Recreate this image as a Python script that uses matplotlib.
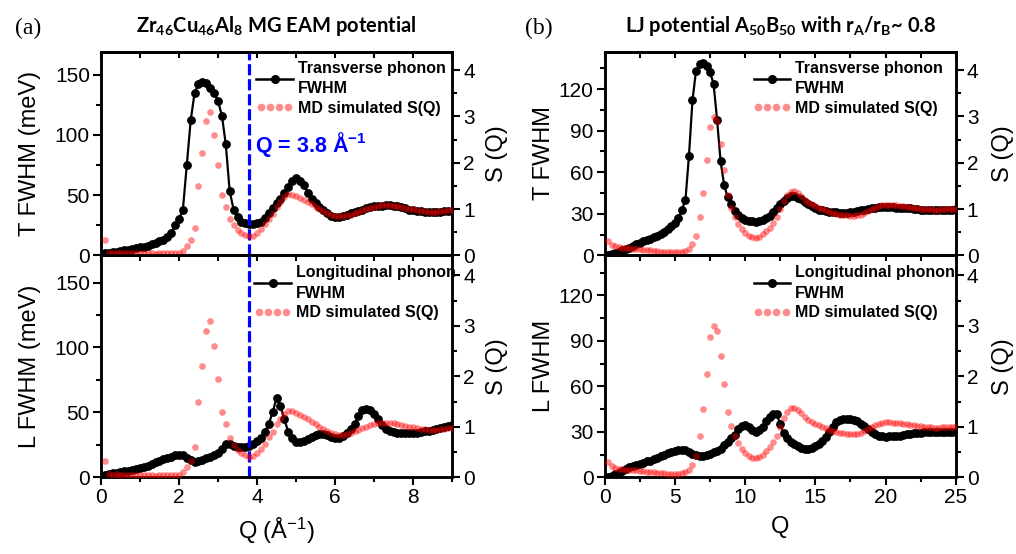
import numpy as np
import matplotlib
matplotlib.use("Agg")
import matplotlib.pyplot as plt
from matplotlib.ticker import MultipleLocator
from matplotlib.lines import Line2D
from matplotlib.legend_handler import HandlerLine2D

plt.rcParams['font.family'] = ['Liberation Sans', 'DejaVu Sans']
plt.rcParams['mathtext.default'] = 'regular'

## ---------------- data (a): Zr46Cu46Al8, Q = 0.1 ... 9.0 ----------------
q_a = np.linspace(0.1, 9.0, 90)

t_fwhm_a = [1.5, 2, 2.5, 3, 3.5, 4, 4.8, 5.5, 6, 6.5,
            7.2, 8, 9, 10, 11.5, 13, 15.5, 18.5, 25, 30,
            38, 75, 112, 135, 142, 144, 143, 139, 135, 128,
            116, 92, 53, 38, 32, 28, 26.5, 26, 26, 26.5,
            28, 31, 35, 39, 43, 47, 52, 57, 62, 64,
            62, 58, 52, 47, 43, 40, 38, 35, 33, 32,
            32, 32.5, 33.5, 35, 36, 37, 38, 39, 40, 40.5,
            41, 41, 41.5, 41.5, 41, 40.5, 40, 39, 38, 37.5,
            37, 36.5, 36, 36, 36, 36, 36, 36.5, 36.5, 37]

l_fwhm_a = [1.8, 2.5, 3, 3.5, 4, 4.5, 5, 5.5, 6.3, 7,
            8, 9, 10, 11.5, 12.5, 13.8, 15, 16, 17, 17.5,
            17, 15, 13, 12, 12.5, 13.5, 14.5, 15.5, 17, 19,
            22, 25.5, 26, 24.5, 23.5, 23.5, 23.5, 24.5, 26, 28,
            30.5, 35, 41, 50, 61, 55, 45, 35, 30, 27.5,
            27, 28, 29.5, 31, 32.5, 33, 33, 32.5, 31, 30,
            30.5, 31.5, 34, 37, 41, 47, 52, 53, 52, 49,
            45, 40, 37.5, 35.5, 35, 34.5, 34.5, 34.5, 34.5, 34.5,
            34.5, 35, 35.5, 36, 36.5, 37, 38, 39, 39.5, 40]

sq_a = [0.32, 0.06, 0.05, 0.06, 0.05, 0.04, 0.04, 0.05, 0.05, 0.04,
        0.04, 0.05, 0.04, 0.03, 0.04, 0.04, 0.05, 0.04, 0.04, 0.05,
        0.1, 0.2, 0.33, 0.6, 1.5, 2.2, 2.9, 3.1, 2.6, 1.95,
        1.3, 1.05, 0.78, 0.65, 0.55, 0.48, 0.44, 0.41, 0.42, 0.48,
        0.57, 0.67, 0.79, 0.9, 1.05, 1.16, 1.26, 1.32, 1.31, 1.28,
        1.24, 1.2, 1.15, 1.1, 1.05, 1.0, 0.95, 0.91, 0.87, 0.85,
        0.84, 0.84, 0.86, 0.88, 0.91, 0.94, 0.97, 1.0, 1.03, 1.05,
        1.07, 1.08, 1.08, 1.08, 1.07, 1.06, 1.04, 1.02, 1.0, 0.99,
        0.97, 0.96, 0.95, 0.94, 0.94, 0.94, 0.95, 0.96, 0.97, 0.98]

## ---------------- data (b): LJ A50B50, Q = 0.25 ... 25 ----------------
q_b = np.linspace(0.25, 25.0, 100)

t_fwhm_b = [0.5, 1, 1.5, 2.5, 3.5, 4.5, 5.5, 6.8, 8, 9,
            10, 11, 12, 13, 14, 15.5, 17, 19, 21, 23.5,
            27, 33, 40, 72, 112, 133, 138, 139, 137, 132,
            124, 98, 68, 51, 42, 37, 32, 29, 27, 25.5,
            25, 24.5, 24, 24.5, 25.5, 27, 28.5, 31, 34, 37,
            39.5, 41.5, 42.5, 42.5, 41.5, 40.5, 38.5, 37, 35.5, 34,
            33, 32.5, 32, 31.5, 31, 31, 30.5, 30.5, 30.5, 31,
            31.5, 32, 32.5, 33, 33.5, 34, 34.5, 35, 35, 35,
            35, 35, 34.5, 34.5, 34, 34, 34, 33.5, 33.5, 33,
            33, 33, 33, 33, 33, 33, 33, 33, 33, 33.5]

l_fwhm_b = [0.3, 1, 2, 3, 4, 5.5, 7, 7.5, 8, 8.5,
            9.5, 10.5, 11, 12, 13, 14, 15, 15.8, 16.5, 17.3,
            18, 18.3, 18, 17, 15.5, 14.5, 14, 14.2, 14.8, 15.5,
            16.5, 17.5, 19, 21, 23.5, 26, 28, 32, 34, 34.5,
            33, 31, 30, 31, 33, 37, 39.5, 41.5, 42, 35,
            29, 26, 23.5, 22, 20.5, 19.5, 19, 19, 19.5, 20.5,
            22, 24, 26.5, 30, 33.5, 36.5, 38, 38.5, 38.5, 38.5,
            38, 37, 35.5, 34, 32, 30, 28.5, 27.5, 27, 26.5,
            27, 27, 27.5, 27.5, 28, 28.5, 28.5, 29, 29.5, 29.5,
            30, 30, 30, 30, 30, 30, 30, 30, 30, 30]

sq_b = [0.3, 0.23, 0.19, 0.17, 0.16, 0.15, 0.15, 0.14, 0.14, 0.13,
        0.12, 0.11, 0.11, 0.1, 0.09, 0.08, 0.08, 0.07, 0.07, 0.07,
        0.07, 0.08, 0.1, 0.14, 0.24, 0.42, 0.82, 1.35, 2.05, 2.78,
        2.99, 2.9, 2.4, 1.85, 1.3, 1.02, 0.82, 0.68, 0.57, 0.48,
        0.42, 0.39, 0.38, 0.4, 0.45, 0.52, 0.6, 0.7, 0.82, 1.0,
        1.18, 1.3, 1.37, 1.38, 1.34, 1.28, 1.2, 1.14, 1.1, 1.06,
        1.03, 1.0, 0.97, 0.94, 0.92, 0.9, 0.88, 0.87, 0.86, 0.85,
        0.85, 0.86, 0.88, 0.91, 0.95, 0.99, 1.03, 1.06, 1.08, 1.09,
        1.09, 1.08, 1.08, 1.07, 1.06, 1.05, 1.04, 1.03, 1.02, 1.01,
        1.0, 0.99, 0.99, 0.98, 0.98, 0.99, 0.99, 1.0, 1.0, 1.01]

Q_MARK = 3.8

RED_ALPHA = 0.45
SPINE_W = 1.8


def style_axes(ax, ax2, xmaj, xmin, ymaj, ymin, xlim, ylim, show_xlabels):
    ax.set_xlim(*xlim)
    ax.set_ylim(*ylim)
    ax2.set_ylim(0, 4.4)
    ax.xaxis.set_major_locator(MultipleLocator(xmaj))
    ax.xaxis.set_minor_locator(MultipleLocator(xmin))
    ax.yaxis.set_major_locator(MultipleLocator(ymaj))
    ax.yaxis.set_minor_locator(MultipleLocator(ymin))
    ax2.yaxis.set_major_locator(MultipleLocator(1))
    ax2.yaxis.set_minor_locator(MultipleLocator(0.5))
    for a in (ax, ax2):
        for s in a.spines.values():
            s.set_linewidth(SPINE_W)
        a.tick_params(which='major', length=6, width=1.5, labelsize=15, pad=2)
        a.tick_params(which='minor', length=3.5, width=1.5)
    ax.tick_params(axis='x', which='both', direction='out', labelbottom=show_xlabels)
    ax.tick_params(axis='y', which='both', direction='out')
    ax2.tick_params(axis='y', which='both', direction='out')
    ## mirrored top ticks pointing inward
    top = ax.secondary_xaxis('top')
    top.xaxis.set_major_locator(MultipleLocator(xmin))
    top.tick_params(direction='in', length=4, width=1.5, labeltop=False)
    top.spines['top'].set_linewidth(SPINE_W)


def draw(ax, q, fwhm, sq, label, leg_x):
    ax.plot(q, fwhm, '-o', color='black', lw=1.6, ms=5.3, zorder=3)
    ax2 = ax.twinx()
    ax2.plot(q, sq, 'o', ls='none', color='red', alpha=RED_ALPHA, ms=4.8,
             mec='none', zorder=3)
    h1 = Line2D([], [], color='black', lw=1.8, marker='o', ms=5.5)
    h2 = Line2D([], [], color='red', ls='none', alpha=RED_ALPHA, marker='o',
                ms=5.5, mec='none')
    leg = ax2.legend([h1, h2], [label, 'MD simulated S(Q)'],
                     handler_map={h1: HandlerLine2D(numpoints=1),
                                  h2: HandlerLine2D(numpoints=4)},
                     loc='upper left', bbox_to_anchor=(leg_x, 0.955), frameon=False,
                     prop={'weight': 'bold', 'size': 11.5}, borderpad=0,
                     handlelength=2.3, handletextpad=0.3, labelspacing=0.3,
                     borderaxespad=0)
    for t in leg.get_texts():
        t.set_linespacing(1.45)
    return ax2


fig = plt.figure(figsize=(10.16, 5.54), dpi=100)

L_A, L_B, W = 0.0994, 0.5952, 0.3455
B_BOT, H_BOT, H_TOP = 0.1384, 0.4008, 0.3675

ax_at = fig.add_axes([L_A, B_BOT + H_BOT, W, H_TOP])
ax_al = fig.add_axes([L_A, B_BOT, W, H_BOT])
ax_bt = fig.add_axes([L_B, B_BOT + H_BOT, W, H_TOP])
ax_bl = fig.add_axes([L_B, B_BOT, W, H_BOT])

tw = draw(ax_at, q_a, t_fwhm_a, sq_a, 'Transverse phonon\nFWHM', 0.443)
lw_ = draw(ax_al, q_a, l_fwhm_a, sq_a, 'Longitudinal phonon\nFWHM', 0.437)
tw_b = draw(ax_bt, q_b, t_fwhm_b, sq_b, 'Transverse phonon\nFWHM', 0.424)
lw_b = draw(ax_bl, q_b, l_fwhm_b, sq_b, 'Longitudinal phonon\nFWHM', 0.424)

style_axes(ax_at, tw, 2, 1, 50, 25, (0, 9), (0, 169), False)
style_axes(ax_al, lw_, 2, 1, 50, 25, (0, 9), (0, 171), True)
style_axes(ax_bt, tw_b, 5, 2.5, 30, 15, (0, 25), (0, 147), False)
style_axes(ax_bl, lw_b, 5, 2.5, 30, 15, (0, 25), (0, 146.5), True)

## blue marker line at Q = 3.8 in panel (a)
for ax in (ax_at, ax_al):
    ax.axvline(Q_MARK, color='blue', lw=2.3, ls=(0, (3.5, 1.2)), zorder=4)
ax_at.text(3.94, 92, 'Q = 3.8 Å$^{-1}$', color='blue', fontweight='bold',
           fontsize=15.5, va='center', ha='left')

## axis labels
for ax, lab, xl in ((ax_at, 'T FWHM (meV)', -0.17), (ax_al, 'L FWHM (meV)', -0.17),
                    (ax_bt, 'T FWHM', -0.142), (ax_bl, 'L FWHM', -0.142)):
    ax.set_ylabel(lab, fontsize=17)
    ax.yaxis.set_label_coords(xl, 0.5)
for ax2, xr in ((tw, 1.097), (lw_, 1.097), (tw_b, 1.104), (lw_b, 1.104)):
    ax2.set_ylabel('S (Q)', fontsize=17)
    ax2.yaxis.set_label_coords(xr, 0.5)

ax_al.set_xlabel('Q (Å$^{-1}$)', fontsize=17, labelpad=6)
ax_bl.set_xlabel('Q', fontsize=17, labelpad=6)

## titles
ax_at.set_title('Zr$_{46}$Cu$_{46}$Al$_8$ MG EAM potential', family='Lato',
                fontweight='bold', fontsize=14.5, pad=14)
ax_bt.set_title('LJ potential A$_{50}$B$_{50}$ with r$_A$/r$_B$~ 0.8', family='Lato',
                fontweight='bold', fontsize=14.5, pad=14)

fig.text(15 / 1016, 1 - 28 / 554, '(a)', family='Liberation Serif', fontsize=17,
         va='center', ha='left')
fig.text(525 / 1016, 1 - 28 / 554, '(b)', family='Liberation Serif', fontsize=17,
         va='center', ha='left')

plt.savefig('out.png', dpi=100)
